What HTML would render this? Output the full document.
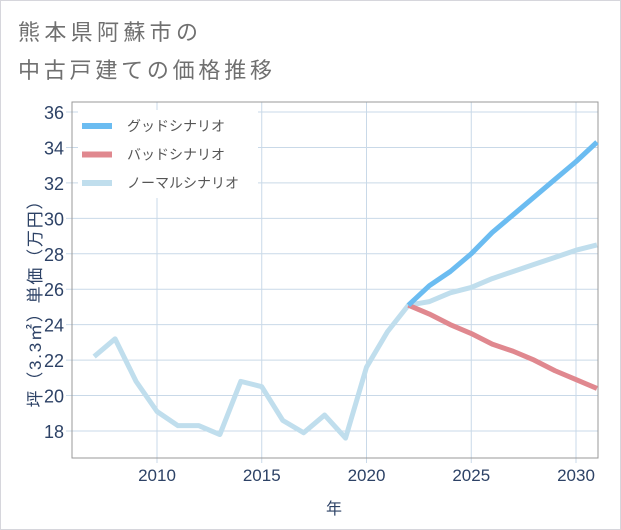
<!DOCTYPE html>
<html><head><meta charset="utf-8"><style>
body{margin:0;background:#fff;}
svg{display:block;font-family:"Liberation Sans","Noto Sans CJK JP",sans-serif;}
</style></head><body>
<svg id="c" width="621" height="530">
<rect x="0.5" y="0.5" width="620" height="529" fill="#fff" stroke="#d6d6dc"/>
<text x="18" y="40" font-size="22" fill="#707070" textLength="180" lengthAdjust="spacing">熊本県阿蘇市の</text>
<text x="18" y="78" font-size="22" fill="#707070" textLength="254" lengthAdjust="spacing">中古戸建ての価格推移</text>
<g id="grid"></g>
<g id="series"></g>
<g id="legend"></g>
<text transform="translate(41,300) rotate(-90)" text-anchor="middle" font-size="17" fill="#2d4266" textLength="215" lengthAdjust="spacing">坪（3.3㎡）単価（万円）</text>
<text x="334" y="514" text-anchor="middle" font-size="16" fill="#2d4266">年</text>
</svg>
<script>
const years=[2007,2008,2009,2010,2011,2012,2013,2014,2015,2016,2017,2018,2019,2020,2021,2022,2023,2024,2025,2026,2027,2028,2029,2030,2031];
const normalVals=[22.2,23.2,20.8,19.1,18.3,18.3,17.8,20.8,20.5,18.6,17.9,18.9,17.6,21.6,23.6,25.1,25.3,25.8,26.1,26.6,27.0,27.4,27.8,28.2,28.5];
const futureYears=[2022,2023,2024,2025,2026,2027,2028,2029,2030,2031];
const goodVals=[25.1,26.2,27.0,28.0,29.2,30.2,31.2,32.2,33.2,34.3];
const badVals=[25.1,24.6,24.0,23.5,22.9,22.5,22.0,21.4,20.9,20.4];
const yTicks=[18,20,22,24,26,28,30,32,34,36];
const xTicks=[2010,2015,2020,2025,2030];
const legendLabels=["グッドシナリオ","バッドシナリオ","ノーマルシナリオ"];
const NS="http://www.w3.org/2000/svg";
const L=72,R=598,T=102,B=458;
const X=v=>157+(v-2010)*(576-157)/20;
const Y=v=>431-(v-18)*(431-112)/18;
function mk(t,a,p){const e=document.createElementNS(NS,t);for(const k in a)e.setAttribute(k,a[k]);p.appendChild(e);return e;}
const g=document.getElementById('grid');
yTicks.forEach(v=>{
 const l=mk('line',{x1:L-6,x2:R,y1:Y(v),y2:Y(v),stroke:'#c9d9e8','stroke-width':1},g);
 
 
 const t=mk('text',{x:L-8,y:Y(v)+7,'text-anchor':'end','font-size':18,fill:'#2d4266'},g);
 t.textContent=v;
 
 
});
xTicks.forEach(v=>{
 const l=mk('line',{x1:X(v),x2:X(v),y1:T,y2:B+5,stroke:'#c9d9e8','stroke-width':1},g);
 
 
 const t=mk('text',{x:X(v),y:B+23,'text-anchor':'middle','font-size':17,fill:'#2d4266'},g);
 t.textContent=v;
 
 
});
const box=mk('rect',{x:L,y:T,width:R-L,height:B-T,fill:'none',stroke:'#999','stroke-width':1},g);


const s=document.getElementById('series');
function line(xs,vs,color,name){
 const p=mk('polyline',{points:xs.map((x,i)=>X(x)+','+Y(vs[i])).join(' '),fill:'none',stroke:color,'stroke-width':5,'stroke-linejoin':'round'},s);
 
 
}
line(years,normalVals,'#c0deed','normal-scenario-line');
line(futureYears,badVals,'#e0888f','bad-scenario-line');
line(futureYears,goodVals,'#6bbcf1','good-scenario-line');
const lg=document.getElementById('legend');
const bg=mk('rect',{x:78,y:110,width:180,height:88,fill:'#fff'},lg);


const cols=['#6bbcf1','#e0888f','#c0deed'];
legendLabels.forEach((lab,i)=>{
 const y=126+i*28.5;
 const sw=mk('line',{x1:82,x2:112,y1:y,y2:y,stroke:cols[i],'stroke-width':6},lg);
 
 
 const t=mk('text',{x:127,y:y+5,'font-size':14,fill:'#555'},lg);
 t.textContent=lab;
 
 
});
</script>
</body></html>
